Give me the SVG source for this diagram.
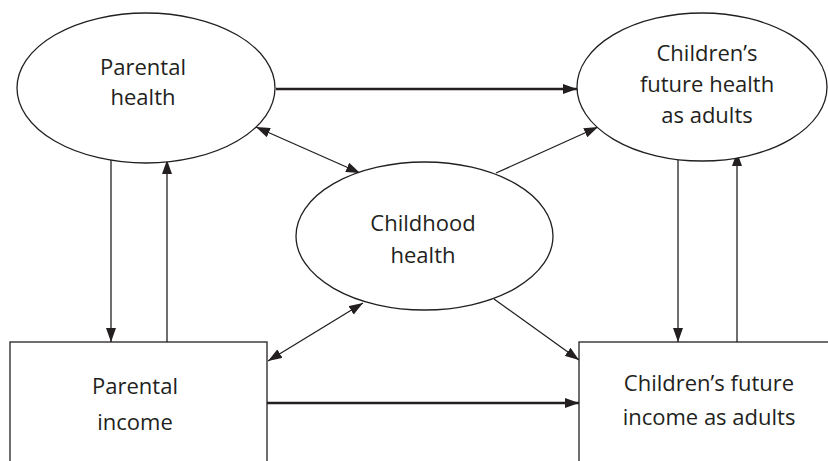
<svg xmlns="http://www.w3.org/2000/svg" width="828" height="461" viewBox="0 0 828 461">
<defs>
<marker id="ah" markerUnits="userSpaceOnUse" markerWidth="14" markerHeight="10" viewBox="0 0 14 10" refX="14" refY="5" orient="auto-start-reverse">
<path d="M0,0 L14,5 L0,10 Z" fill="#231f20"/>
</marker>
</defs>
<style>
.shape{fill:#fff;stroke:#231f20;stroke-width:1.3}
.lbl{font-family:"Open Sans","Noto Sans",sans-serif;font-size:22px;fill:#231f20;text-anchor:middle}
.thin{stroke:#231f20;stroke-width:1.3;fill:none}
.thick{stroke:#231f20;stroke-width:2.6;fill:none}
</style>
<rect width="828" height="461" fill="#fff"/>
<g id="connectors">
<line class="thick" x1="276" y1="89" x2="577" y2="89" marker-end="url(#ah)"/>
<line class="thick" x1="267" y1="403" x2="579" y2="403" marker-end="url(#ah)"/>
<line class="thin" x1="111" y1="152" x2="111" y2="342" marker-end="url(#ah)"/>
<line class="thin" x1="167" y1="342" x2="167" y2="160" marker-end="url(#ah)"/>
<line class="thin" x1="678" y1="158" x2="678" y2="342" marker-end="url(#ah)"/>
<line class="thin" x1="737" y1="342" x2="737" y2="152" marker-end="url(#ah)"/>
<line class="thin" x1="256" y1="127" x2="360" y2="173" marker-start="url(#ah)" marker-end="url(#ah)"/>
<line class="thin" x1="496" y1="173" x2="598" y2="127" marker-end="url(#ah)"/>
<line class="thin" x1="363" y1="303" x2="268" y2="361" marker-start="url(#ah)" marker-end="url(#ah)"/>
<line class="thin" x1="494" y1="299" x2="579" y2="360" marker-end="url(#ah)"/>
</g>
<g id="parental-health">
<ellipse class="shape" cx="146" cy="88" rx="129" ry="75"/>
<text class="lbl" x="143" y="75">Parental</text>
<text class="lbl" x="143" y="105">health</text>
</g>
<g id="children-future-health">
<ellipse class="shape" cx="702" cy="87" rx="125" ry="74"/>
<text class="lbl" x="707" y="61">Children’s</text>
<text class="lbl" x="707" y="92">future health</text>
<text class="lbl" x="707" y="123">as adults</text>
</g>
<g id="childhood-health">
<ellipse class="shape" cx="424.5" cy="236" rx="128.5" ry="74"/>
<text class="lbl" x="423" y="231">Childhood</text>
<text class="lbl" x="423" y="263">health</text>
</g>
<g id="parental-income">
<rect class="shape" x="10" y="342" width="257" height="130"/>
<text class="lbl" x="135" y="394">Parental</text>
<text class="lbl" x="135" y="430">income</text>
</g>
<g id="children-future-income">
<rect class="shape" x="579" y="342" width="260" height="130"/>
<text class="lbl" x="709" y="391">Children’s future</text>
<text class="lbl" x="709" y="425">income as adults</text>
</g>
</svg>
